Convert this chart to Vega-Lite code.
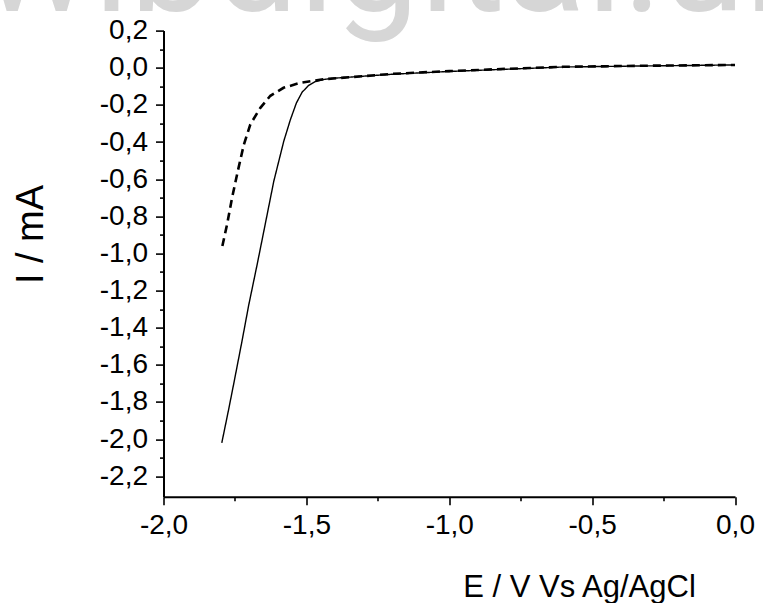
{
  "$schema": "https://vega.github.io/schema/vega-lite/v6.json",
  "width": 571.5,
  "height": 466.1,
  "autosize": {"type": "none"},
  "padding": {"left": 163.5, "top": 30.6, "right": 28, "bottom": 106.3},
  "background": "white",
  "title": {
    "text": "wibdigital.unal",
    "font": "Roboto",
    "fontSize": 150,
    "fontWeight": "normal",
    "color": "#d6d6d6",
    "anchor": "start",
    "frame": "group",
    "baseline": "alphabetic",
    "offset": 0,
    "dx": -183,
    "dy": 144
  },
  "data": {
    "values": [
      {"E": -1.796, "I": -2.02, "s": "a"},
      {"E": -1.772, "I": -1.84, "s": "a"},
      {"E": -1.754, "I": -1.7, "s": "a"},
      {"E": -1.725, "I": -1.47, "s": "a"},
      {"E": -1.702, "I": -1.28, "s": "a"},
      {"E": -1.671, "I": -1.05, "s": "a"},
      {"E": -1.649, "I": -0.881, "s": "a"},
      {"E": -1.614, "I": -0.611, "s": "a"},
      {"E": -1.579, "I": -0.395, "s": "a"},
      {"E": -1.556, "I": -0.28, "s": "a"},
      {"E": -1.535, "I": -0.19, "s": "a"},
      {"E": -1.515, "I": -0.132, "s": "a"},
      {"E": -1.492, "I": -0.095, "s": "a"},
      {"E": -1.47, "I": -0.075, "s": "a"},
      {"E": -1.44, "I": -0.063, "s": "a"},
      {"E": -1.4, "I": -0.056, "s": "a"},
      {"E": -1.2, "I": -0.035, "s": "a"},
      {"E": -1.0, "I": -0.02, "s": "a"},
      {"E": -0.8, "I": -0.008, "s": "a"},
      {"E": -0.6, "I": 0.004, "s": "a"},
      {"E": -0.3, "I": 0.01, "s": "a"},
      {"E": 0.0, "I": 0.015, "s": "a"},
      {"E": -1.794, "I": -0.96, "s": "b"},
      {"E": -1.777, "I": -0.84, "s": "b"},
      {"E": -1.76, "I": -0.7, "s": "b"},
      {"E": -1.74, "I": -0.557, "s": "b"},
      {"E": -1.719, "I": -0.415, "s": "b"},
      {"E": -1.696, "I": -0.305, "s": "b"},
      {"E": -1.661, "I": -0.216, "s": "b"},
      {"E": -1.626, "I": -0.151, "s": "b"},
      {"E": -1.58, "I": -0.108, "s": "b"},
      {"E": -1.521, "I": -0.081, "s": "b"},
      {"E": -1.44, "I": -0.062, "s": "b"},
      {"E": -1.2, "I": -0.033, "s": "b"},
      {"E": -1.0, "I": -0.018, "s": "b"},
      {"E": -0.8, "I": -0.006, "s": "b"},
      {"E": -0.6, "I": 0.005, "s": "b"},
      {"E": -0.3, "I": 0.011, "s": "b"},
      {"E": 0.0, "I": 0.015, "s": "b"}
    ]
  },
  "mark": {"type": "line", "color": "black", "clip": true},
  "encoding": {
    "x": {
      "field": "E",
      "type": "quantitative",
      "scale": {"domain": [-2.0, 0.0], "nice": false, "zero": false},
      "axis": {
        "title": "E / V Vs Ag/AgCl",
        "values": [-2.0, -1.75, -1.5, -1.25, -1.0, -0.75, -0.5, -0.25, 0.0],
        "labelExpr": "abs(datum.value*2 - round(datum.value*2)) < 0.001 ? replace(replace(format(datum.value, '.1f'), '.', ','), '\u2212', '-') : ''",
        "tickSize": {"condition": {"test": "abs(datum.value*2 - round(datum.value*2)) > 0.001", "value": 4}, "value": 8},
        "labelPadding": 7,
        "titleX": 415.5,
        "titleY": 100,
        "titleAlign": "center",
        "titleBaseline": "alphabetic",
        "titleAnchor": null
      }
    },
    "y": {
      "field": "I",
      "type": "quantitative",
      "scale": {"domain": [-2.31, 0.2], "nice": false, "zero": false},
      "axis": {
        "title": "I / mA",
        "values": [0.2, 0.1, 0.0, -0.1, -0.2, -0.3, -0.4, -0.5, -0.6, -0.7, -0.8, -0.9, -1.0, -1.1, -1.2, -1.3, -1.4, -1.5, -1.6, -1.7, -1.8, -1.9, -2.0, -2.1, -2.2],
        "labelExpr": "abs(datum.value*5 - round(datum.value*5)) < 0.001 ? replace(replace(format(datum.value, '.1f'), '.', ','), '\u2212', '-') : ''",
        "tickSize": {"condition": {"test": "abs(datum.value*5 - round(datum.value*5)) > 0.001", "value": 4}, "value": 8},
        "labelPadding": 8,
        "titleX": -121,
        "titleY": 203.4,
        "titleAlign": "center",
        "titleBaseline": "alphabetic",
        "titleAngle": 270,
        "titleAnchor": null
      }
    },
    "strokeDash": {
      "field": "s",
      "type": "nominal",
      "scale": {"domain": ["a", "b"], "range": [[1, 0], [8, 5]]},
      "legend": null
    },
    "strokeWidth": {
      "field": "s",
      "type": "nominal",
      "scale": {"domain": ["a", "b"], "range": [1.4, 2.6]},
      "legend": null
    }
  },
  "config": {
    "view": {"stroke": null},
    "axis": {
      "domainColor": "black",
      "domainWidth": 2,
      "tickColor": "black",
      "tickWidth": 1.6,
      "labelColor": "black",
      "labelFont": "Liberation Sans",
      "labelFontSize": 28,
      "labelOverlap": false,
      "labelFlush": false,
      "grid": false,
      "titleColor": "black",
      "titleFont": "Liberation Sans",
      "titleFontWeight": "normal"
    },
    "axisX": {"titleFontSize": 31},
    "axisY": {"titleFontSize": 38}
  }
}
